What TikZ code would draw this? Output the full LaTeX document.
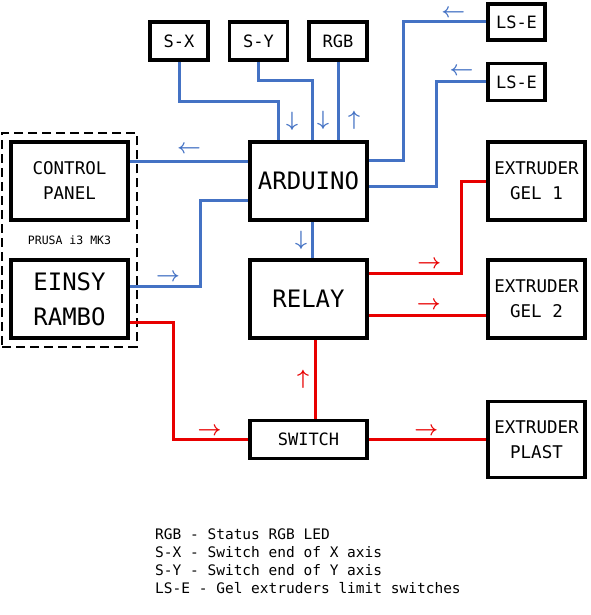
\documentclass[tikz,border=0pt]{standalone}
\usepackage{fontspec}
\setmainfont{DejaVu Sans Mono}
\usetikzlibrary{positioning,fit}
\definecolor{sigblue}{RGB}{68,114,196}
\definecolor{pwrred}{RGB}{232,0,0}

\begin{document}
\begin{tikzpicture}[x=1pt,y=1pt,on grid,
  sig/.style={color=sigblue,line width=3pt},
  pwr/.style={color=pwrred,line width=3pt},
  tip/.style={inner sep=1pt,font=\fontsize{20}{20}\selectfont\boldmath}]
  \tikzstyle{box}=[draw,line width=3.6pt,align=center,minimum width=117pt,minimum height=78pt,font=\fontsize{17.5}{25}\selectfont]
  \tikzstyle{big}=[box,font=\fontsize{24}{35}\selectfont]
  \tikzstyle{ext}=[box,minimum width=97pt]
  \tikzstyle{tag}=[box,minimum width=58pt,minimum height=38pt,font=\fontsize{17}{20}\selectfont]
  \useasboundingbox (0,0) rectangle (590,-615);

  \node[big] (ard) at (308.5,-181) {ARDUINO};
  \node[big] (relay) [below=118pt of ard] {RELAY};
  \node[tag,minimum width=117pt] (sw) [below=140.5pt of relay] {SWITCH};
  \node[box] (cp) [left=239pt of ard] {CONTROL\\PANEL};
  \node[big] (einsy) [left=239pt of relay] {EINSY\\RAMBO};
  \node[ext] (gel_1) [right=228pt of ard] {EXTRUDER\\GEL 1};
  \node[ext] (gel_2) [right=228pt of relay] {EXTRUDER\\GEL 2};
  \node[ext,minimum height=76pt] (plast) [right=228pt of sw] {EXTRUDER\\PLAST};
  \node[tag] (sx) [above left=140pt and 129.5pt of ard] {S-X};
  \node[tag] (sy) [above left=140pt and 50pt of ard] {S-Y};
  \node[tag] (rgb) [above right=140pt and 29.5pt of ard] {RGB};
  \node[tag,minimum width=57pt,minimum height=36pt] (lse_1) [above right=159pt and 208pt of ard] {LS-E};
  \node[tag,minimum width=57pt,minimum height=37pt] (lse_2) [above right=99pt and 208pt of ard] {LS-E};
  \node[font=\fontsize{11.5}{12}\selectfont] (prusa) [below=59pt of cp] {PRUSA i3 MK3};
  \node[draw,line width=1.6pt,dash pattern=on 9pt off 5pt,inner sep=7pt,fit=(cp)(einsy)] (printer) {};

  % signal lines
  \draw[sig] (sx.south) -- ++(0,-40) -| node[tip,pos=0.75,xshift=14pt] {$\downarrow$} ([xshift=-30.5pt]ard.north);
  \draw[sig] (sy.south) -- ++(0,-19) -| node[tip,pos=0.83,xshift=11pt] {$\downarrow$} ([xshift=3.5pt]ard.north);
  \draw[sig] (rgb.south) -- node[tip,pos=0.74,xshift=16pt] {$\uparrow$} (rgb.south |- ard.north);
  \draw[sig] ([yshift=21pt]ard.east) -- ++(35,0) |- node[tip,pos=0.8,yshift=9pt] {$\leftarrow$} (lse_1.west);
  \draw[sig] ([yshift=-5pt]ard.east) -- ++(68,0) |- node[tip,pos=0.75,yshift=11pt] {$\leftarrow$} (lse_2.west);
  \draw[sig] ([yshift=20pt]ard.west) -- node[tip,yshift=12pt] {$\leftarrow$} ([yshift=20pt]cp.east);
  \draw[sig] ([yshift=13pt]einsy.east) -- node[tip,pos=0.54,yshift=9pt] {$\rightarrow$} ++(71,0) |- ([yshift=-19pt]ard.west);
  \draw[sig] ([xshift=3.5pt]ard.south) -- node[tip,xshift=-11pt] {$\downarrow$} ([xshift=3.5pt]relay.north);

  % power lines
  \draw[pwr] ([yshift=26pt]relay.east) -- node[tip,pos=0.65,yshift=9pt] {$\rightarrow$} ++(93,0) |- (gel_1.west);
  \draw[pwr] ([yshift=-16pt]relay.east) -- node[tip,pos=0.51,yshift=10pt] {$\rightarrow$} ([yshift=-16pt]gel_2.west);
  \draw[pwr] ([yshift=-23pt]einsy.east) -- ++(44,0) |- node[tip,pos=0.74,yshift=8pt] {$\rightarrow$} (sw.west);
  \draw[pwr] ([xshift=6.5pt]sw.north) -- node[tip,xshift=-12pt] {$\uparrow$} ([xshift=6.5pt]relay.south);
  \draw[pwr] (sw.east) -- node[tip,pos=0.49,yshift=8pt] {$\rightarrow$} (sw.east -| plast.west);

  \node[anchor=north west,align=left,inner sep=0pt,font=\fontsize{14.5}{18}\selectfont] (key) at (155,-529)
    {RGB - Status RGB LED\\S-X - Switch end of X axis\\S-Y - Switch end of Y axis\\LS-E - Gel extruders limit switches};
\end{tikzpicture}
\end{document}
